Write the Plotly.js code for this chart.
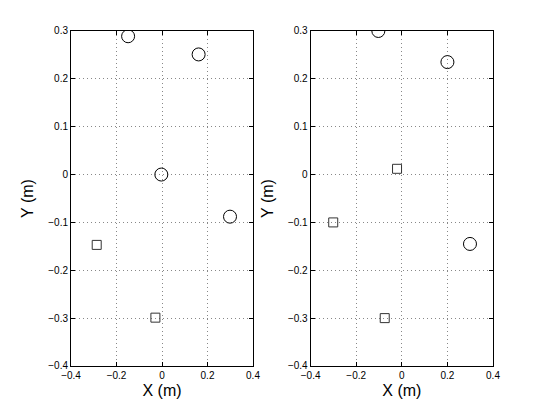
<!DOCTYPE html>
<html>
<head>
<meta charset="utf-8">
<script src="https://cdn.plot.ly/plotly-3.0.1.min.js"></script>
<style>html,body{margin:0;padding:0;background:#fff}#plot{width:545px;height:412px}</style>
</head>
<body>
<div id="plot"></div>
<script>
// left panel
let leftCircX = [-0.149, 0.161, -0.003, 0.299];
let leftCircY = [0.289, 0.251, 0.0, -0.088];
let leftSqX = [-0.287, -0.029];
let leftSqY = [-0.147, -0.299];
// right panel
let rightCircX = [-0.103, 0.2, 0.299];
let rightCircY = [0.3, 0.235, -0.145];
let rightSqX = [-0.021, -0.301, -0.075];
let rightSqY = [0.012, -0.1, -0.3];

let xTicks = [-0.4, -0.2, 0, 0.2, 0.4];
let yTicks = [-0.4, -0.3, -0.2, -0.1, 0, 0.1, 0.2, 0.3];

function circles(x, y, xa, ya) {
  return {x: x, y: y, xaxis: xa, yaxis: ya, mode: "markers", type: "scatter",
    marker: {symbol: "circle-open", size: 13, color: "#000", line: {width: 1}}};
}
function squares(x, y, xa, ya) {
  return {x: x, y: y, xaxis: xa, yaxis: ya, mode: "markers", type: "scatter",
    marker: {symbol: "square-open", size: 9, color: "#333", line: {width: 1}}};
}

let data = [
  circles(leftCircX, leftCircY, "x", "y"),
  squares(leftSqX, leftSqY, "x", "y"),
  circles(rightCircX, rightCircY, "x2", "y2"),
  squares(rightSqX, rightSqY, "x2", "y2")
];

function xAxis(dom, anchor) {
  return {domain: dom, anchor: anchor, range: [-0.4, 0.4], tickvals: xTicks,
    ticktext: xTicks.map(v => v < 0 ? "\u2212" + Math.abs(v) : String(v)),
    ticks: "inside", ticklen: 4, tickcolor: "#000", mirror: "ticks",
    showline: true, linecolor: "#000", linewidth: 1,
    showgrid: true, gridcolor: "#888", griddash: "1px,3px", gridwidth: 1,
    zeroline: false, tickfont: {size: 10, color: "#000"},
    title: {text: "X (m)", font: {size: 16, color: "#000"}, standoff: 4}};
}
function yAxis(anchor) {
  return {domain: [0.1117, 0.9248], anchor: anchor, range: [-0.4, 0.3], tickvals: yTicks,
    ticktext: yTicks.map(v => v < 0 ? "\u2212" + Math.abs(v) : String(v)),
    ticks: "inside", ticklen: 4, tickcolor: "#000", mirror: "ticks",
    showline: true, linecolor: "#000", linewidth: 1,
    showgrid: true, gridcolor: "#888", griddash: "1px,3px", gridwidth: 1,
    zeroline: false, tickfont: {size: 10, color: "#000"},
    title: {text: "Y (m)", font: {size: 16, color: "#000"}, standoff: 10}};
}

let layout = {
  width: 545, height: 412,
  margin: {l: 0, r: 0, t: 0, b: 0},
  showlegend: false,
  paper_bgcolor: "#fff", plot_bgcolor: "#fff",
  font: {family: "Liberation Sans, Arial, sans-serif"},
  xaxis: xAxis([0.1303, 0.4642], "y"),
  yaxis: yAxis("x"),
  xaxis2: xAxis([0.570, 0.9046], "y2"),
  yaxis2: yAxis("x2")
};

Plotly.newPlot("plot", data, layout, {staticPlot: true});
</script>
</body>
</html>
